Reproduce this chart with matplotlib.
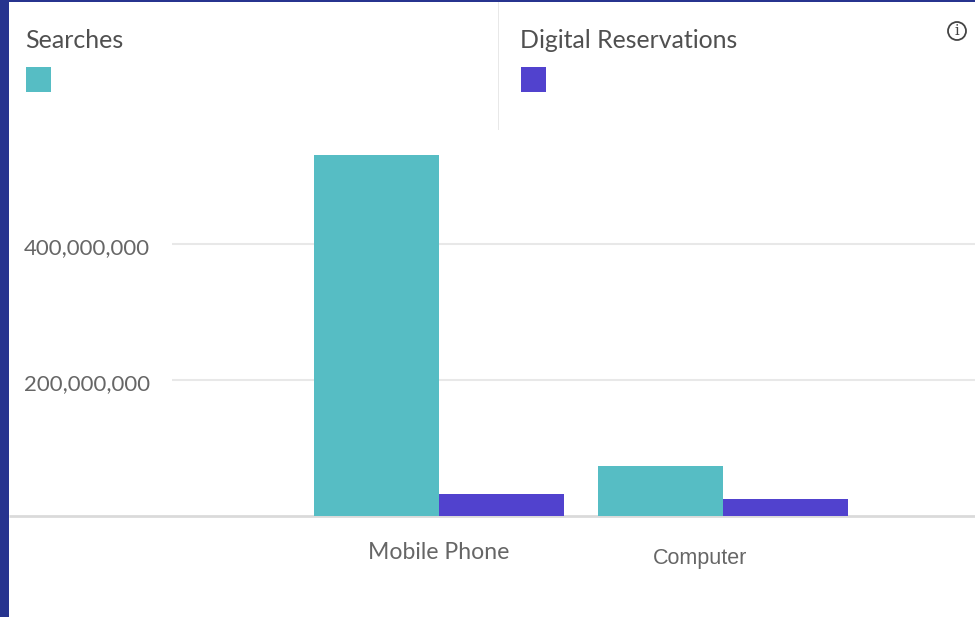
import matplotlib
matplotlib.use('Agg')
import matplotlib.pyplot as plt
from matplotlib.patches import Rectangle, Circle

categories = ['Mobile Phone', 'Computer']
searches = [531000000, 74000000]
reservations = [32000000, 25000000]
yticks = [200000000, 400000000]

W, H = 975, 617
teal = '#56BDC4'
purple = '#5142CE'
navy = '#27348F'
label_col = '#666666'
title_col = '#505050'
font = 'Lato'


def fx(px):
    return px / W


def fy(py):
    return 1 - py / H


fig = plt.figure(figsize=(W / 100, H / 100), dpi=100)

# plot area: x from the side border to the right edge, y from header to baseline
ax = fig.add_axes([fx(9), fy(516), fx(966), fy(130) - fy(516)])
ax.set_xlim((9 - 439) / 284, (975 - 439) / 284)
ax.set_ylim(0, 567600000)
ax.patch.set_alpha(0)
for s in ax.spines.values():
    s.set_visible(False)
ax.set_xticks([])
ax.set_yticks([])

w = 125 / 284
for i in range(len(categories)):
    ax.bar(i - w / 2, searches[i], w, color=teal, zorder=3)
    ax.bar(i + w / 2, reservations[i], w, color=purple, zorder=3)

# gridlines start right of the tick labels
for t in yticks:
    ax.plot([(172 - 9) / 966, 1], [t, t], color='#E8E8E8', lw=1.5,
            transform=ax.get_yaxis_transform(), zorder=1, solid_capstyle='butt')
    fig.text(fx(24), fy(516 - t / 200000000 * 136 + 10), format(t, ','),
             fontsize=16, color=label_col, family=font, va='baseline', ha='left')

ax.plot([0, 1], [0, 0], color='#DADADA', lw=2, transform=ax.get_yaxis_transform(),
        zorder=2, clip_on=False, solid_capstyle='butt')

fig.text(fx(439), fy(559), categories[0], fontsize=16.6, color=label_col,
         family=font, ha='center', va='baseline')
fig.text(fx(700), fy(564), categories[1], fontsize=15.5, color=label_col,
         family='Liberation Sans', ha='center', va='baseline')

# header with the two series swatches
fig.text(fx(25), fy(48), 'Searches', fontsize=18, color=title_col, family=font, va='baseline')
fig.text(fx(520), fy(48), 'Digital Reservations', fontsize=17.9, color=title_col,
         family=font, va='baseline')
fig.add_artist(Rectangle((fx(26), fy(92)), 25 / W, 25 / H, color=teal, transform=fig.transFigure, lw=0))
fig.add_artist(Rectangle((fx(521), fy(92)), 25 / W, 25 / H, color=purple, transform=fig.transFigure, lw=0))
fig.add_artist(Rectangle((fx(498), fy(130)), 1.5 / W, 130 / H, color='#E8E8E8', transform=fig.transFigure, lw=0))

# info icon, drawn in pixel coordinates so it stays round
fig.add_artist(Circle((957, H - 31), 9, fill=False, ec='#444444', lw=1.3, transform=None))
fig.text(fx(957), fy(31), 'i', fontsize=10.5, color='#444444', family='DejaVu Serif', ha='center', va='center')

# page border on the left and top
fig.add_artist(Rectangle((0, 0), 9 / W, 1, color=navy, transform=fig.transFigure, lw=0))
fig.add_artist(Rectangle((0, fy(2)), 1, 2 / H, color=navy, transform=fig.transFigure, lw=0))

fig.savefig('out.png', dpi=100)
